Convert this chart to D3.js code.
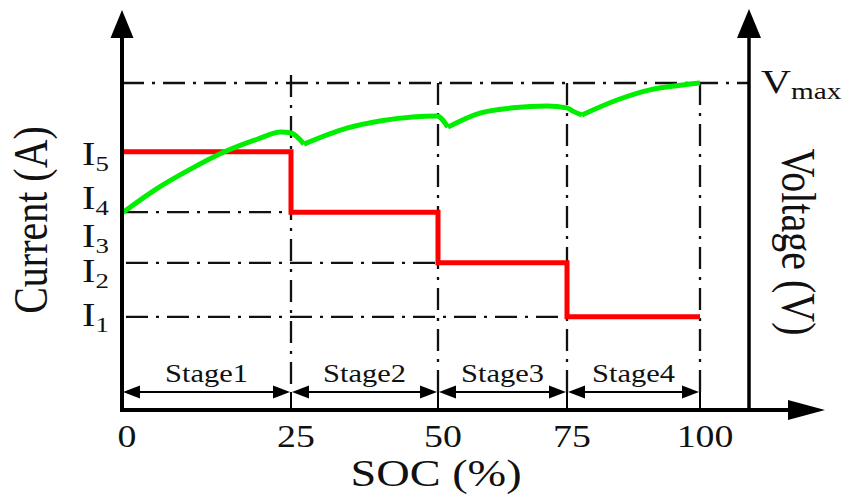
<!DOCTYPE html>
<html>
<head>
<meta charset="utf-8">
<script src="https://cdn.jsdelivr.net/npm/d3@7"></script>
<style>
    body { margin: 0; background: #fff; }
    svg { display: block; }
</style>
</head>
<body>
<script>
// SOC ticks / stage boundaries (%)
var socTicks = [0, 25, 50, 75, 100];
var stageNames = ["Stage1", "Stage2", "Stage3", "Stage4"];

// charging current steps (arbitrary units), start of each stage
var stepSoc = [0, 25, 50, 75, 100];
var stepCurrent = [7.9, 6.05, 4.5, 2.85, 2.85];

// current level labels and where they sit on the axis
var currentLabels = ["1", "2", "3", "4", "5"];
var currentLabelVals = [2.9, 4.25, 5.32, 6.47, 7.84];

// battery voltage curve (arbitrary units, Vmax = 10)
var vMax = 10;
var voltSoc = [0, 5, 10, 15, 20, 23.5, 25, 27.2, 34.5, 40.1, 45.7, 49.8,
    51.9, 58.1, 64.5, 71.1, 75, 76.1, 77.8, 84.4, 90.6, 96.8, 100];
var voltVal = [6.02, 6.75, 7.35, 7.88, 8.28, 8.5, 8.47, 8.13, 8.62, 8.84, 8.96, 8.99,
    8.65, 9.08, 9.24, 9.30, 9.24, 9.14, 9.02, 9.48, 9.79, 9.94, 10];

var W = 843, H = 502;
var SX = 1.22; // the figure's lettering is stretched horizontally
var FONT = "'Liberation Serif', 'Times New Roman', serif";
var rightAxisX = 749, arrowY = 392;

var svg = d3.select("body").append("svg")
    .attr("width", W)
    .attr("height", H);

// the stage boundaries are not evenly spaced in the original
var x = d3.scaleLinear().domain(socTicks).range([122, 291, 438, 567, 700]);
var yCur = d3.scaleLinear().domain([0, 10]).range([410, 83]);
var yV = d3.scaleLinear().domain([0, vMax]).range([410, 83]);

var x0 = x(0), y0 = yCur(0);

function addText(str, px, py, size, rot, anchor) {
    return svg.append("text")
        .attr("transform", "translate(" + px + "," + py + ") scale(" + SX + ",1)" + (rot ? " rotate(" + rot + ")" : ""))
        .attr("font-family", FONT)
        .attr("font-size", size)
        .attr("text-anchor", anchor || "middle")
        .attr("fill", "#111")
        .text(str);
}

function dashLine(xa, ya, xb, yb) {
    svg.append("line")
        .attr("x1", xa).attr("y1", ya).attr("x2", xb).attr("y2", yb)
        .attr("stroke", "#111")
        .attr("stroke-width", 2.3)
        .attr("stroke-dasharray", "22,8,3,8");
}

// dash-dot guides
dashLine(x0, yV(vMax), rightAxisX, yV(vMax));
for (var i = 1; i < stepCurrent.length - 1; i++) {
    dashLine(x0 + 4, yCur(stepCurrent[i]), x(stepSoc[i]), yCur(stepCurrent[i]));
}
socTicks.slice(1).forEach(function (s) {
    dashLine(x(s), yV(vMax) - (s === 25 ? 8 : 0), x(s), arrowY);
});

// current profile
var stepLine = d3.line()
    .curve(d3.curveStepAfter)
    .x(function (d) { return x(d[0]); })
    .y(function (d) { return yCur(d[1]); });

svg.append("path")
    .datum(d3.zip(stepSoc, stepCurrent))
    .attr("d", stepLine)
    .attr("fill", "none")
    .attr("stroke", "#ff0000")
    .attr("stroke-width", 5);

// voltage curve, split at the dips so they stay sharp
var vPts = d3.zip(voltSoc, voltVal);
var segs = [], cur = [];
vPts.forEach(function (p, k) {
    cur.push(p);
    if (k > 0 && k < vPts.length - 1 && p[1] < vPts[k - 1][1] && p[1] < vPts[k + 1][1]) {
        segs.push(cur);
        cur = [p];
    }
});
segs.push(cur);

var vLine = d3.line()
    .curve(d3.curveMonotoneX)
    .x(function (d) { return x(d[0]); })
    .y(function (d) { return yV(d[1]); });

svg.append("g").selectAll("path")
    .data(segs)
    .enter().append("path")
    .attr("d", vLine)
    .attr("fill", "none")
    .attr("stroke", "#00ee00")
    .attr("stroke-width", 5)
    .attr("stroke-linejoin", "round");

// axes
function axisLine(xa, ya, xb, yb, w) {
    svg.append("line")
        .attr("x1", xa).attr("y1", ya).attr("x2", xb).attr("y2", yb)
        .attr("stroke", "#000")
        .attr("stroke-width", w);
}
axisLine(x0, y0 + 2, x0, 36, 4);
axisLine(rightAxisX, y0 + 2, rightAxisX, 36, 3.5);
axisLine(x0 - 2, y0, 790, y0, 4);

svg.append("path").attr("d", "M" + x0 + ",10L" + (x0 + 11.5) + ",38L" + (x0 - 11.5) + ",38Z");
svg.append("path").attr("d", "M" + rightAxisX + ",9L" + (rightAxisX + 12) + ",38L" + (rightAxisX - 12) + ",38Z");
svg.append("path").attr("d", "M825," + y0 + "L788," + (y0 - 10) + "L788," + (y0 + 10) + "Z");

// stage arrows
function arrowHead(tipX, dir) {
    var L = 17, hw = 6.5;
    svg.append("path")
        .attr("d", "M" + tipX + "," + arrowY + "L" + (tipX + dir * L) + "," + (arrowY - hw) +
            "L" + (tipX + dir * L) + "," + (arrowY + hw) + "Z");
}
stageNames.forEach(function (name, k) {
    var a = x(socTicks[k]), b = x(socTicks[k + 1]);
    axisLine(a + 6, arrowY, b - 6, arrowY, 1.8);
    arrowHead(a + 1, 1);
    arrowHead(b - 1, -1);
    axisLine(b, arrowY, b, y0, 2);
    addText(name, (a + b) / 2, arrowY - 10, 25);
});

// x tick labels
socTicks.forEach(function (s) {
    addText(s, x(s) + 5, 447, 31);
});

// current level labels
currentLabels.forEach(function (lab, k) {
    var t = addText("I", 82, yCur(currentLabelVals[k]) + 11, 33, 0, "start");
    t.append("tspan").attr("font-size", 22).attr("dy", 6).text(lab);
});

// Vmax label
var vm = addText("V", 761, yV(vMax) + 10, 34, 0, "start");
vm.append("tspan").attr("font-size", 24).attr("dy", 6).text("max");

// axis titles
addText("SOC (%)", 436, 486, 38);
addText("Current (A)", 47, 220, 40, -90);
addText("Voltage (V)", 782, 242, 40, 90);
</script>
</body>
</html>
